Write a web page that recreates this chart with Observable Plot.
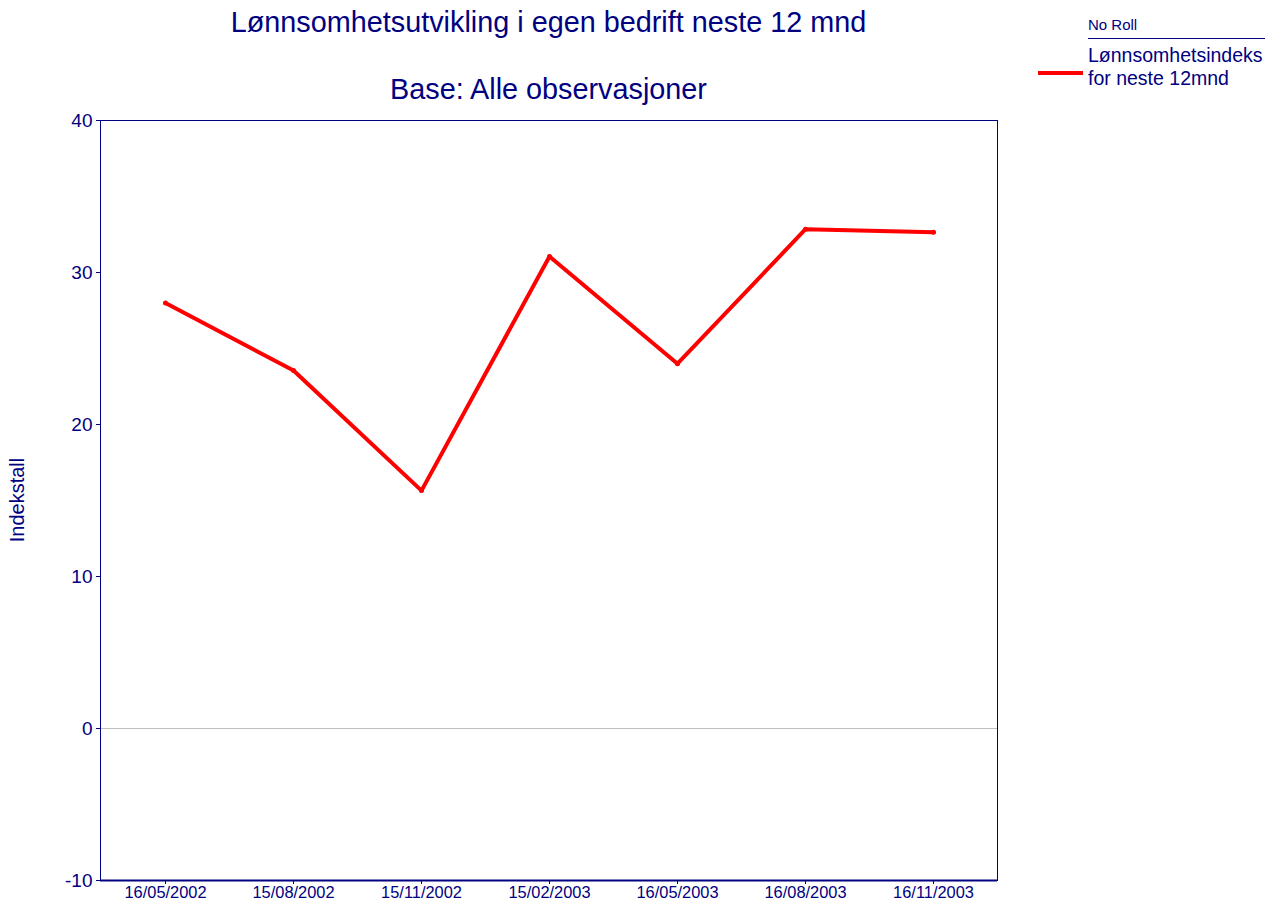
<!DOCTYPE html>
<html>
<head>
<meta charset="utf-8">
<script src="https://cdn.jsdelivr.net/npm/d3@7"></script>
<script src="https://cdn.jsdelivr.net/npm/@observablehq/plot@0.6"></script>
<style>
  body { margin: 0; background: #fff; font-family: "Liberation Sans", Arial, sans-serif; color: #000080; }
  #wrap { position: relative; width: 1265px; height: 902px; }
  #wrap svg { position: absolute; left: 0; top: 0; }
  .abs { position: absolute; white-space: nowrap; color: #000080; }
</style>
</head>
<body>
<div id="wrap">
  <div class="abs" id="title" style="left:100px;width:897px;top:6px;text-align:center;font-size:28.8px;">Lønnsomhetsutvikling i egen bedrift neste 12 mnd</div>
  <div class="abs" id="subtitle" style="left:100px;width:897px;top:73px;text-align:center;font-size:28.8px;">Base: Alle observasjoner</div>
  <div class="abs" style="left:1088px;top:16px;font-size:15px;">No Roll</div>
  <div class="abs" style="left:1088px;top:38px;width:177px;border-top:1.5px solid #000080;"></div>
  <div class="abs" style="left:1088px;top:44px;font-size:19.5px;line-height:23px;">Lønnsomhetsindeks<br>for neste 12mnd</div>
  <div class="abs" style="left:1038px;top:71px;width:45px;height:4px;background:#ff0000;"></div>
  <div class="abs" style="left:17px;top:500px;font-size:20px;transform:translate(-50%,-50%) rotate(-90deg);transform-origin:center;">Indekstall</div>
</div>
<script>
const dates = ["16/05/2002", "15/08/2002", "15/11/2002", "15/02/2003", "16/05/2003", "16/08/2003", "16/11/2003"];
const values = [28.0, 23.55, 15.65, 31.05, 24.0, 32.85, 32.65];
const yTicks = [-10, 0, 10, 20, 30, 40];

const data = dates.map((d, i) => ({date: d, value: values[i]}));
const navy = "#000080";

const chart = Plot.plot({
  width: 1265,
  height: 902,
  marginLeft: 100,
  marginRight: 268,
  marginTop: 120,
  marginBottom: 22,
  style: {fontFamily: "'Liberation Sans', Arial, sans-serif", color: navy, background: "transparent"},
  x: {type: "point", domain: dates, padding: 0.5},
  y: {domain: [-10, 40]},
  marks: [
    Plot.ruleY([0], {stroke: "#c0c0c0", strokeWidth: 1}),
    Plot.frame({stroke: navy, strokeWidth: 1}),
    Plot.ruleY([-10], {stroke: navy, strokeWidth: 2}),
    Plot.axisY({ticks: yTicks, tickFormat: d => String(d), tickSize: 4, tickPadding: 4, fontSize: 19, stroke: navy, fill: navy, label: null}),
    Plot.axisX({tickSize: 4, tickPadding: 2, fontSize: 16.4, stroke: navy, fill: navy, label: null}),
    Plot.line(data, {x: "date", y: "value", stroke: "#ff0000", strokeWidth: 4, strokeLinejoin: "round", strokeLinecap: "round"}),
    Plot.dot(data, {x: "date", y: "value", r: 2.5, fill: "#ff0000"})
  ]
});
document.getElementById("wrap").prepend(chart);
</script>
</body>
</html>
